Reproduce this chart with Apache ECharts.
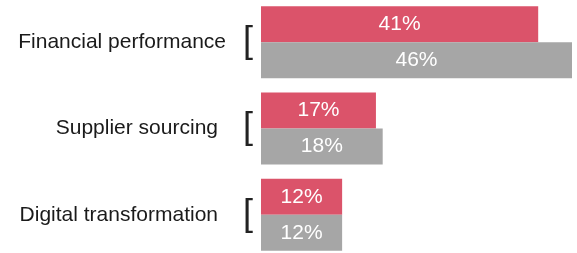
<!DOCTYPE html>
<html>
<head>
<meta charset="utf-8">
<script src="https://cdn.jsdelivr.net/npm/echarts@6/dist/echarts.min.js"></script>
<style>html,body{margin:0;padding:0;background:#fff;overflow:hidden}#c{width:577px;height:262px;margin-top:-1px}</style>
</head>
<body>
<div id="c"></div>
<script>
const categories = ["Financial performance", "Supplier sourcing", "Digital transformation"];
const seriesRed = [41, 17, 12];
const seriesGray = [46, 18, 12];

const chart = echarts.init(document.getElementById('c'), null, {renderer: 'canvas'});
const font = 'Liberation Sans, Arial, Helvetica, sans-serif';
chart.setOption({
  animation: false,
  grid: {left: 261, top: 0, width: 311, height: 259},
  xAxis: {type: 'value', min: 0, max: 46, show: false},
  yAxis: {
    type: 'category', data: categories, inverse: true,
    axisLine: {show: false}, axisTick: {show: false}, splitLine: {show: false},
    axisLabel: {
      margin: 8,
      formatter: function (v, i) {
        return '{' + (i === 0 ? 'ta' : 'tb') + '|' + v + '}{br|[}';
      },
      rich: {
        ta: {fontSize: 21, fontFamily: font, color: '#1a1a1a', padding: [0, 17, 0, 0], verticalAlign: 'middle'},
        tb: {fontSize: 21, fontFamily: font, color: '#1a1a1a', padding: [0, 25, 0, 0], verticalAlign: 'middle'},
        br: {fontSize: 36, fontFamily: font, color: '#222', verticalAlign: 'middle'}
      }
    }
  },
  series: [
    {type: 'bar', data: seriesRed, barGap: '0%', barWidth: 36,
     itemStyle: {color: '#DB536A'},
     label: {show: true, position: 'inside', color: '#fff', fontSize: 21, fontFamily: font, formatter: '{c}%'}},
    {type: 'bar', data: seriesGray, barGap: '0%', barWidth: 36,
     itemStyle: {color: '#A6A6A6'},
     label: {show: true, position: 'inside', color: '#fff', fontSize: 21, fontFamily: font, formatter: '{c}%'}}
  ]
});
</script>
</body>
</html>
